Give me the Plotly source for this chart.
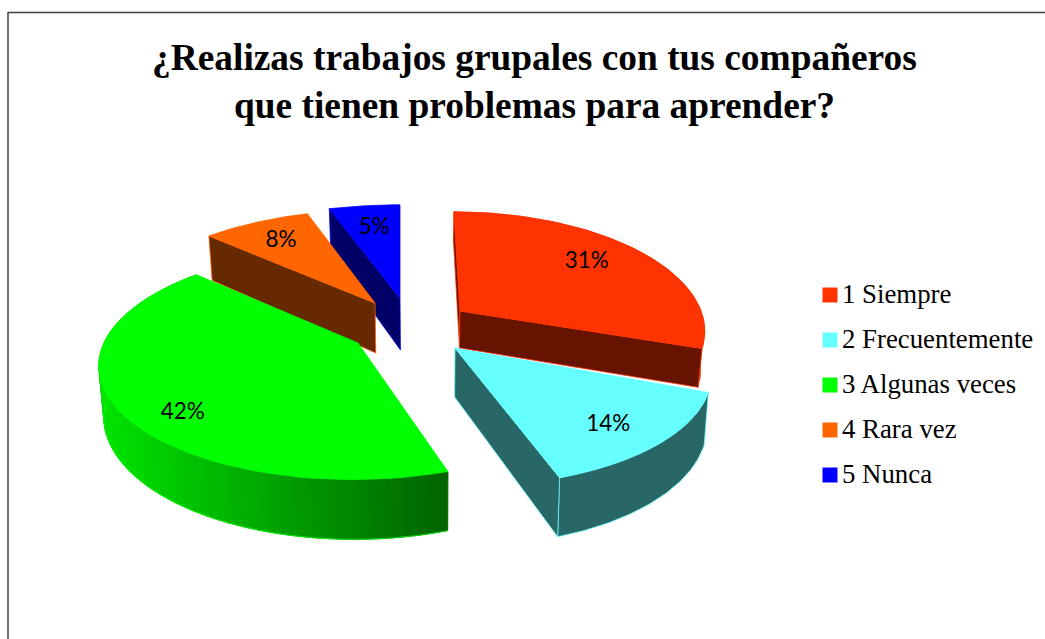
import math
import plotly.graph_objects as go

# ---- data -------------------------------------------------------------
categories = ["1 Siempre", "2 Frecuentemente", "3 Algunas veces", "4 Rara vez", "5 Nunca"]
values = [31, 14, 42, 8, 5]
labels = ["31%", "14%", "42%", "8%", "5%"]
top_colors = ["#FF3300", "#66FFFF", "#00FF00", "#FF6600", "#0000FF"]
wall_colors = ["#661400", "#296666", "#006600", "#662900", "#000066"]
title_lines = ["¿Realizas trabajos grupales con tus compañeros", "que tienen problemas para aprender?"]

# ---- projection of each exploded slice (pixel space of the axes) ---------
apex = [(460, 311), (455, 348), (358, 343), (375, 303), (400, 298)]
radius_x = [241, 250, 254, 256, 268]
radius_y = [114, 113, 112, 110, 110]
persp = [0.15, 0.18, 0.18, 0.18, 0.18]
skew = [-6, -12, 5, 0, 0]
warp = [0.97, 1, 1, 1, 1]
height = [37, 49, 49, 50, 52]
label_frac = [(0.72, 0.82), (0.75, 0.79), (0.73, 1.03), (0.79, 0.76), (0.72, 0.78)]
label_shift = [(0, 2), (-1, 2), (0, 2), (0, 0), (0, 2)]
# faces seen by the viewer: start cut, end cut, outer wall
faces = [("start", "end", "outer"), ("end", "outer"), ("outer",), ("start",), ("start",)]
draw_order = [4, 3, 2, 0, 1]
N = 70


def project(i, t, f=(1.0, 1.0)):
    t = t * warp[i]
    u, v = math.sin(t), math.cos(t)
    s = 1 / (1 + persp[i] * v)
    return (apex[i][0] + f[0] * (radius_x[i] * u * s + skew[i] * v),
            apex[i][1] - f[1] * radius_y[i] * v * s, s)


def drop(i, p):
    return (430 + (p[0] - 430) * 0.985, p[1] + height[i] * p[2])


def mix(a, b, w):
    return "rgb(0,%d,0)" % round(a + (b - a) * w)


def poly(fig, pts, fill, line=None, width=0.75):
    fig.add_trace(go.Scatter(
        x=[p[0] for p in pts] + [pts[0][0]], y=[p[1] for p in pts] + [pts[0][1]],
        mode="lines", fill="toself", fillcolor=fill,
        line=dict(color=line or fill, width=width),
        hoverinfo="skip", showlegend=False))


fig = go.Figure()
total = sum(values)
starts = [sum(values[:i]) / total * 2 * math.pi for i in range(len(values))]
ends = [sum(values[:i + 1]) / total * 2 * math.pi for i in range(len(values))]

for i in draw_order:
    arc = [project(i, starts[i] + (ends[i] - starts[i]) * k / N) for k in range(N + 1)]
    low = [drop(i, p) for p in arc]
    ap = (apex[i][0], apex[i][1], 1.0)
    ap_low = drop(i, ap)
    edge = top_colors[i]
    if "outer" in faces[i]:
        if i == 2:
            for k in range(N):
                w = (arc[k][0] - 110) / (449 - 110)
                c = mix(225, 100, max(0, min(1, w)))
                poly(fig, [arc[k][:2], arc[k + 1][:2], low[k + 1], low[k]], c, c, 1)
            fig.add_trace(go.Scatter(x=[p[0] for p in low], y=[p[1] for p in low], mode="lines",
                                     line=dict(color=edge, width=0.75), hoverinfo="skip", showlegend=False))
        else:
            poly(fig, [p[:2] for p in arc] + low[::-1], wall_colors[i], edge)
    if "start" in faces[i]:
        poly(fig, [ap[:2], arc[0][:2], low[0], ap_low], wall_colors[i], edge)
    if "end" in faces[i]:
        poly(fig, [ap[:2], arc[-1][:2], low[-1], ap_low], wall_colors[i], edge)
    # top face
    poly(fig, [ap[:2]] + [p[:2] for p in arc], top_colors[i])

# percentage labels
lab = [project(i, (starts[i] + ends[i]) / 2, label_frac[i]) for i in range(len(values))]
fig.add_trace(go.Scatter(x=[p[0] + d[0] for p, d in zip(lab, label_shift)],
                         y=[p[1] + d[1] for p, d in zip(lab, label_shift)],
                         mode="text", text=labels,
                         textfont=dict(family="Lato", size=22.5, color="#000000"),
                         hoverinfo="skip", showlegend=False))

# legend column
legend_x = 830
legend_y = [295, 340, 385, 430, 475]
fig.add_trace(go.Scatter(x=[legend_x] * 5, y=legend_y, mode="markers",
                         marker=dict(symbol="square", size=15, color=top_colors),
                         hoverinfo="skip", showlegend=False))
fig.add_trace(go.Scatter(x=[legend_x + 12] * 5, y=[v + 1.5 for v in legend_y], mode="text",
                         text=categories, textposition="middle right",
                         textfont=dict(family="Liberation Serif", size=26.8, color="#000000"),
                         hoverinfo="skip", showlegend=False))

# title
for j, line in enumerate(title_lines):
    fig.add_annotation(x=534, y=57 + j * 48, text="<b>%s</b>" % line, showarrow=False,
                       xref="x", yref="y", font=dict(family="Liberation Serif", size=37.4, color="#000000"))

# chart frame
fig.add_shape(type="line", x0=8, x1=8, y0=12, y1=639, xref="x", yref="y", line=dict(color="#404040", width=1.5))
fig.add_shape(type="line", x0=8, x1=1045, y0=12.5, y1=12.5, xref="x", yref="y", line=dict(color="#404040", width=1.5))

fig.update_layout(width=1045, height=639, margin=dict(l=0, r=0, t=0, b=0),
                  paper_bgcolor="white", plot_bgcolor="white", showlegend=False,
                  xaxis=dict(range=[0, 1045], visible=False, fixedrange=True),
                  yaxis=dict(range=[639, 0], visible=False, fixedrange=True))
fig.write_html("out.html", post_script="document.body.style.margin='0';document.documentElement.style.overflow='hidden';",
               config=dict(displayModeBar=False))
